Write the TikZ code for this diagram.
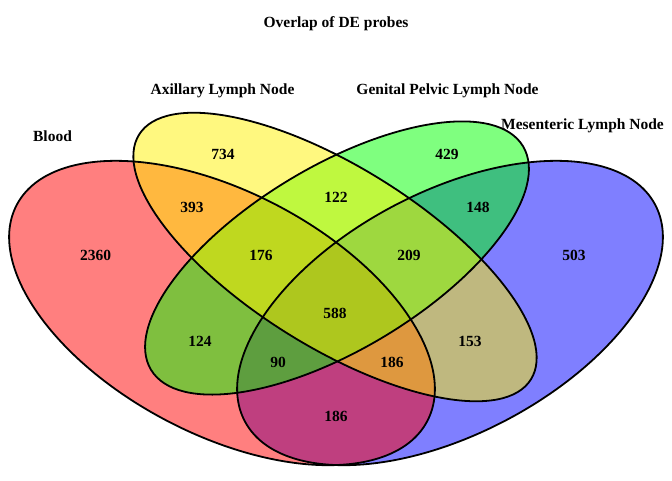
\documentclass[tikz,border=0pt]{standalone}
\usepackage{fontspec}
\setmainfont{Liberation Serif}
\begin{document}
\begin{tikzpicture}[
    x=1pt, y=-1pt,
    setfill/.style={fill=#1, fill opacity=0.5, draw=none},
    outline/.style={draw=black, line width=1.8pt},
    lbl/.style={anchor=base, inner sep=0pt, font=\fontsize{15.5}{18}\selectfont\bfseries}
]
\useasboundingbox (0,0) rectangle (672,480);

% Set fills
\fill[setfill=blue, rotate around={27.8:(450,313)}] (450,313) ellipse [x radius=232pt, y radius=121pt];
\fill[setfill=red, rotate around={-27.8:(222,313)}] (222,313) ellipse [x radius=232pt, y radius=121pt];
\fill[setfill=green, rotate around={31:(337,258)}] (337,258) ellipse [x radius=217pt, y radius=91.6pt];
\fill[setfill=yellow, rotate around={-32:(335,257)}] (335,257) ellipse [x radius=231pt, y radius=90pt];

% Outlines
\draw[outline, rotate around={27.8:(450,313)}] (450,313) ellipse [x radius=232pt, y radius=121pt];
\draw[outline, rotate around={-27.8:(222,313)}] (222,313) ellipse [x radius=232pt, y radius=121pt];
\draw[outline, rotate around={31:(337,258)}] (337,258) ellipse [x radius=217pt, y radius=91.6pt];
\draw[outline, rotate around={-32:(335,257)}] (335,257) ellipse [x radius=231pt, y radius=90pt];

% Title and set names
\node[lbl] (title) at (336,27.5) {Overlap of DE probes};
\node[lbl] (blood) at (52.5,141) {Blood};
\node[lbl] (axillary) at (222.5,94.5) {Axillary Lymph Node};
\node[lbl] (pelvic) at (447.5,94.5) {Genital Pelvic Lymph Node};
\node[lbl] (mesenteric) at (582.5,129.5) {Mesenteric Lymph Node};

% Counts
\node[lbl] (nB) at (95.5,260.5) {2360};
\node[lbl] (nA) at (223,159) {734};
\node[lbl] (nG) at (447,159) {429};
\node[lbl] (nM) at (574,260.5) {503};
\node[lbl] (nBA) at (192,212.5) {393};
\node[lbl] (nAG) at (336,202.5) {122};
\node[lbl] (nGM) at (478,212.5) {148};
\node[lbl] (nBAG) at (261,260.5) {176};
\node[lbl] (nAGM) at (409,260.5) {209};
\node[lbl] (nBG) at (200,346.5) {124};
\node[lbl] (nAll) at (335,318.5) {588};
\node[lbl] (nAM) at (470,346.5) {153};
\node[lbl] (nBGM) at (278,367.5) {90};
\node[lbl] (nBAM) at (392,367.5) {186};
\node[lbl] (nBM) at (336,421.5) {186};
\end{tikzpicture}
\end{document}
